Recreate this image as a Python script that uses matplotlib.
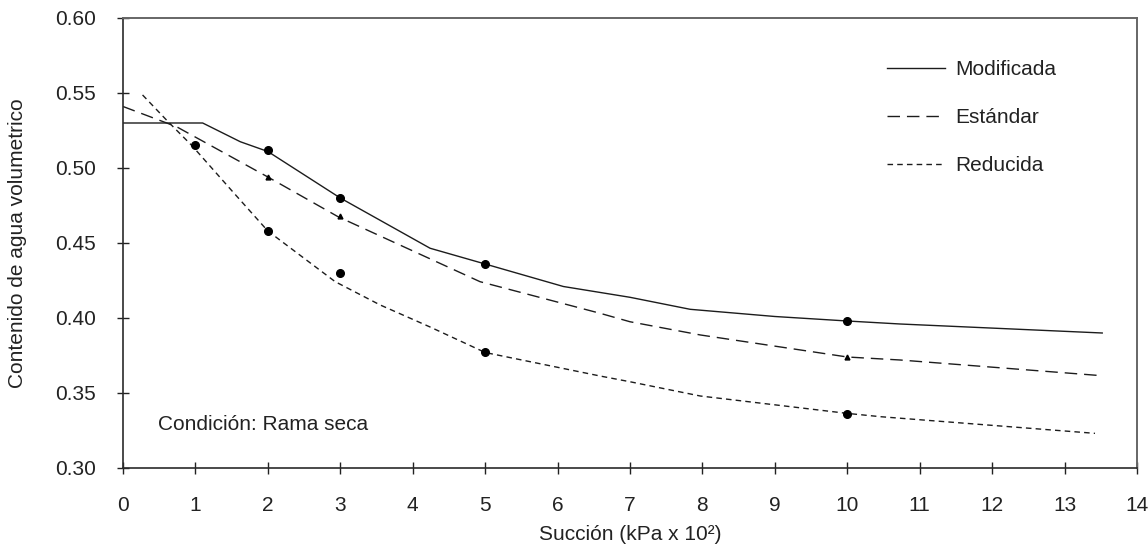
import matplotlib
matplotlib.use("Agg")
import matplotlib.pyplot as plt

plt.rcParams['font.family'] = ['Liberation Sans', 'DejaVu Sans']

# Fitted curves (suction in kPa x 10^2, volumetric water content)
mod_x = [0.0, 1.1, 1.62, 2.0, 3.0, 4.24, 5.0, 6.08, 7.0, 7.83, 9.0, 10.0, 10.73, 13.52]
mod_y = [0.530, 0.530, 0.5175, 0.511, 0.480, 0.4465, 0.436, 0.421, 0.4138, 0.4058, 0.401, 0.398, 0.396, 0.390]

est_x = [0.0, 0.74, 2.0, 2.97, 4.93, 6.59, 7.0, 7.97, 10.0, 10.73, 13.52]
est_y = [0.541, 0.5275, 0.494, 0.4675, 0.4242, 0.4031, 0.3975, 0.3887, 0.374, 0.372, 0.3615]

red_x = [0.27, 0.62, 0.95, 1.5, 2.0, 2.93, 3.55, 4.24, 5.0, 6.59, 7.0, 7.97, 10.0, 10.46, 13.42]
red_y = [0.5487, 0.531, 0.515, 0.485, 0.458, 0.4242, 0.4087, 0.394, 0.377, 0.3613, 0.3575, 0.348, 0.3364, 0.3342, 0.3231]

# Measured points
mod_px = [2, 3, 5, 10]
mod_py = [0.512, 0.480, 0.436, 0.398]
est_px = [2, 3, 10]
est_py = [0.494, 0.468, 0.374]
red_px = [1, 2, 3, 5, 10]
red_py = [0.515, 0.458, 0.430, 0.377, 0.336]

x_ticks = list(range(0, 15))
y_ticks = [0.30, 0.35, 0.40, 0.45, 0.50, 0.55, 0.60]

ink = '#1c1c1c'
fs = 15
fig = plt.figure(figsize=(11.48, 5.55), dpi=100)
ax = fig.add_axes([0.10714, 0.15676, 0.88328, 0.81081])

ax.plot(mod_x, mod_y, color=ink, lw=1.0, ls='-', label='Modificada')
ax.plot(est_x, est_y, color=ink, lw=1.0, ls=(0, (9, 5)), label='Estándar')
ax.plot(red_x, red_y, color=ink, lw=1.0, ls=(0, (4, 3)), label='Reducida')

ax.plot(mod_px, mod_py, 'o', color='black', ms=5.5, ls='none')
ax.plot(red_px, red_py, 'o', color='black', ms=5.5, ls='none')
ax.plot(est_px, est_py, '^', color='black', ms=3.5, ls='none')

ax.set_xlim(0, 14)
ax.set_ylim(0.30, 0.60)
ax.set_xticks(x_ticks)
ax.set_yticks(y_ticks)
ax.set_xticklabels([str(t) for t in x_ticks])
ax.set_yticklabels([f"{t:.2f}" for t in y_ticks])

ax.tick_params(axis='x', direction='inout', length=9, width=1.0, pad=16,
               labelsize=fs, colors='#222222')
ax.tick_params(axis='y', direction='inout', length=9, width=1.0, pad=15,
               labelsize=fs, colors='#222222')

for side in ['left', 'bottom']:
    ax.spines[side].set_color('#2a2a2a')
    ax.spines[side].set_linewidth(1.2)
for side in ['top', 'right']:
    ax.spines[side].set_color('#666666')
    ax.spines[side].set_linewidth(1.4)

ax.set_xlabel('Succión (kPa x 10²)', fontsize=fs, color='#222222', labelpad=7)
ax.set_ylabel('Contenido de agua volumetrico', fontsize=fs, color='#222222', labelpad=20)

ax.text(0.48, 0.3287, 'Condición: Rama seca', fontsize=fs, color='#222222',
        va='center', ha='left')

ax.legend(loc='upper left', bbox_to_anchor=(0.7535, 0.906), frameon=False,
          fontsize=fs, handlelength=2.8, handletextpad=0.48, labelspacing=1.38,
          borderpad=0, borderaxespad=0, labelcolor='#222222')

fig.savefig('out.png', dpi=100, facecolor='white')
